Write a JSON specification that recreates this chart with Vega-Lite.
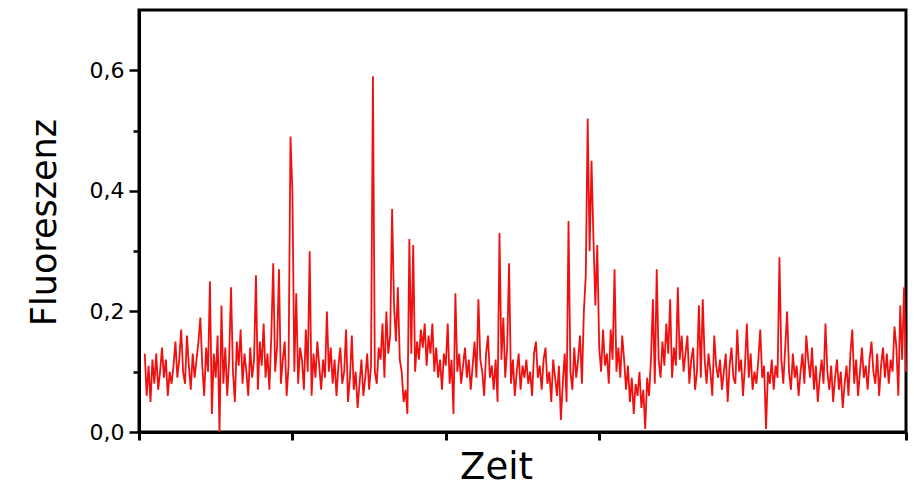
{
  "$schema": "https://vega.github.io/schema/vega-lite/v6.json",
  "width": 767,
  "height": 422,
  "autosize": {"type": "none"},
  "padding": {"left": 139, "top": 10, "right": 8, "bottom": 63},
  "background": "white",
  "config": {
    "view": {"stroke": "black", "strokeWidth": 3},
    "font": "DejaVu Sans"
  },
  "data": {"values": [
{"t":3,"v":0.13},{"t":4,"v":0.06},{"t":5,"v":0.11},{"t":6,"v":0.05},{"t":7,"v":0.12},{"t":8,"v":0.08},{"t":9,"v":0.13},{"t":10,"v":0.07},{"t":11,"v":0.10},{"t":12,"v":0.14},
{"t":13,"v":0.09},{"t":14,"v":0.12},{"t":15,"v":0.06},{"t":16,"v":0.10},{"t":17,"v":0.08},{"t":18,"v":0.11},{"t":19,"v":0.15},{"t":20,"v":0.09},{"t":21,"v":0.12},{"t":22,"v":0.17},
{"t":23,"v":0.10},{"t":24,"v":0.08},{"t":25,"v":0.16},{"t":26,"v":0.11},{"t":27,"v":0.07},{"t":28,"v":0.13},{"t":29,"v":0.09},{"t":30,"v":0.12},{"t":31,"v":0.15},{"t":32,"v":0.19},
{"t":33,"v":0.11},{"t":34,"v":0.06},{"t":35,"v":0.14},{"t":36,"v":0.10},{"t":37,"v":0.25},{"t":38,"v":0.03},{"t":39,"v":0.13},{"t":40,"v":0.09},{"t":41,"v":0.16},{"t":42,"v":0.0},
{"t":43,"v":0.21},{"t":44,"v":0.08},{"t":45,"v":0.14},{"t":46,"v":0.06},{"t":47,"v":0.12},{"t":48,"v":0.24},{"t":49,"v":0.10},{"t":50,"v":0.05},{"t":51,"v":0.15},{"t":52,"v":0.11},
{"t":53,"v":0.17},{"t":54,"v":0.08},{"t":55,"v":0.13},{"t":56,"v":0.10},{"t":57,"v":0.06},{"t":58,"v":0.14},{"t":59,"v":0.09},{"t":60,"v":0.12},{"t":61,"v":0.26},{"t":62,"v":0.07},
{"t":63,"v":0.15},{"t":64,"v":0.11},{"t":65,"v":0.18},{"t":66,"v":0.09},{"t":67,"v":0.13},{"t":68,"v":0.07},{"t":69,"v":0.16},{"t":70,"v":0.28},{"t":71,"v":0.10},{"t":72,"v":0.14},
{"t":73,"v":0.27},{"t":74,"v":0.08},{"t":75,"v":0.12},{"t":76,"v":0.15},{"t":77,"v":0.06},{"t":78,"v":0.11},{"t":79,"v":0.49},{"t":80,"v":0.40},{"t":81,"v":0.10},{"t":82,"v":0.23},
{"t":83,"v":0.08},{"t":84,"v":0.14},{"t":85,"v":0.12},{"t":86,"v":0.07},{"t":87,"v":0.17},{"t":88,"v":0.10},{"t":89,"v":0.30},{"t":90,"v":0.06},{"t":91,"v":0.13},{"t":92,"v":0.09},
{"t":93,"v":0.15},{"t":94,"v":0.11},{"t":95,"v":0.07},{"t":96,"v":0.12},{"t":97,"v":0.09},{"t":98,"v":0.20},{"t":99,"v":0.10},{"t":100,"v":0.14},{"t":101,"v":0.08},{"t":102,"v":0.12},
{"t":103,"v":0.06},{"t":104,"v":0.11},{"t":105,"v":0.14},{"t":106,"v":0.08},{"t":107,"v":0.10},{"t":108,"v":0.17},{"t":109,"v":0.05},{"t":110,"v":0.09},{"t":111,"v":0.16},{"t":112,"v":0.07},
{"t":113,"v":0.10},{"t":114,"v":0.04},{"t":115,"v":0.08},{"t":116,"v":0.12},{"t":117,"v":0.06},{"t":118,"v":0.09},{"t":119,"v":0.13},{"t":120,"v":0.07},{"t":121,"v":0.11},{"t":122,"v":0.59},
{"t":123,"v":0.10},{"t":124,"v":0.08},{"t":125,"v":0.14},{"t":126,"v":0.12},{"t":127,"v":0.18},{"t":128,"v":0.09},{"t":129,"v":0.20},{"t":130,"v":0.13},{"t":131,"v":0.16},{"t":132,"v":0.37},
{"t":133,"v":0.21},{"t":134,"v":0.15},{"t":135,"v":0.24},{"t":136,"v":0.12},{"t":137,"v":0.10},{"t":138,"v":0.05},{"t":139,"v":0.07},{"t":140,"v":0.03},{"t":141,"v":0.32},{"t":142,"v":0.13},
{"t":143,"v":0.31},{"t":144,"v":0.10},{"t":145,"v":0.15},{"t":146,"v":0.12},{"t":147,"v":0.17},{"t":148,"v":0.14},{"t":149,"v":0.18},{"t":150,"v":0.11},{"t":151,"v":0.16},{"t":152,"v":0.13},
{"t":153,"v":0.18},{"t":154,"v":0.10},{"t":155,"v":0.14},{"t":156,"v":0.09},{"t":157,"v":0.12},{"t":158,"v":0.07},{"t":159,"v":0.13},{"t":160,"v":0.11},{"t":161,"v":0.18},{"t":162,"v":0.08},
{"t":163,"v":0.12},{"t":164,"v":0.03},{"t":165,"v":0.23},{"t":166,"v":0.10},{"t":167,"v":0.13},{"t":168,"v":0.08},{"t":169,"v":0.11},{"t":170,"v":0.14},{"t":171,"v":0.09},{"t":172,"v":0.12},
{"t":173,"v":0.07},{"t":174,"v":0.11},{"t":175,"v":0.15},{"t":176,"v":0.09},{"t":177,"v":0.22},{"t":178,"v":0.12},{"t":179,"v":0.10},{"t":180,"v":0.06},{"t":181,"v":0.13},{"t":182,"v":0.16},
{"t":183,"v":0.09},{"t":184,"v":0.11},{"t":185,"v":0.07},{"t":186,"v":0.12},{"t":187,"v":0.05},{"t":188,"v":0.33},{"t":189,"v":0.12},{"t":190,"v":0.19},{"t":191,"v":0.09},{"t":192,"v":0.14},
{"t":193,"v":0.28},{"t":194,"v":0.08},{"t":195,"v":0.12},{"t":196,"v":0.06},{"t":197,"v":0.10},{"t":198,"v":0.13},{"t":199,"v":0.07},{"t":200,"v":0.11},{"t":201,"v":0.09},{"t":202,"v":0.12},
{"t":203,"v":0.08},{"t":204,"v":0.10},{"t":205,"v":0.06},{"t":206,"v":0.13},{"t":207,"v":0.15},{"t":208,"v":0.09},{"t":209,"v":0.11},{"t":210,"v":0.07},{"t":211,"v":0.12},{"t":212,"v":0.14},
{"t":213,"v":0.08},{"t":214,"v":0.10},{"t":215,"v":0.05},{"t":216,"v":0.12},{"t":217,"v":0.09},{"t":218,"v":0.06},{"t":219,"v":0.11},{"t":220,"v":0.02},{"t":221,"v":0.08},{"t":222,"v":0.13},
{"t":223,"v":0.05},{"t":224,"v":0.35},{"t":225,"v":0.10},{"t":226,"v":0.07},{"t":227,"v":0.14},{"t":228,"v":0.09},{"t":229,"v":0.12},{"t":230,"v":0.16},{"t":231,"v":0.08},{"t":232,"v":0.20},
{"t":233,"v":0.26},{"t":234,"v":0.52},{"t":235,"v":0.30},{"t":236,"v":0.45},{"t":237,"v":0.32},{"t":238,"v":0.21},{"t":239,"v":0.31},{"t":240,"v":0.14},{"t":241,"v":0.10},{"t":242,"v":0.17},
{"t":243,"v":0.11},{"t":244,"v":0.13},{"t":245,"v":0.08},{"t":246,"v":0.17},{"t":247,"v":0.12},{"t":248,"v":0.27},{"t":249,"v":0.10},{"t":250,"v":0.14},{"t":251,"v":0.09},{"t":252,"v":0.16},
{"t":253,"v":0.12},{"t":254,"v":0.07},{"t":255,"v":0.11},{"t":256,"v":0.05},{"t":257,"v":0.09},{"t":258,"v":0.03},{"t":259,"v":0.08},{"t":260,"v":0.06},{"t":261,"v":0.10},{"t":262,"v":0.04},
{"t":263,"v":0.07},{"t":264,"v":0.005},{"t":265,"v":0.09},{"t":266,"v":0.06},{"t":267,"v":0.12},{"t":268,"v":0.22},{"t":269,"v":0.08},{"t":270,"v":0.27},{"t":271,"v":0.12},{"t":272,"v":0.09},
{"t":273,"v":0.15},{"t":274,"v":0.11},{"t":275,"v":0.18},{"t":276,"v":0.13},{"t":277,"v":0.22},{"t":278,"v":0.09},{"t":279,"v":0.14},{"t":280,"v":0.11},{"t":281,"v":0.24},{"t":282,"v":0.12},
{"t":283,"v":0.16},{"t":284,"v":0.10},{"t":285,"v":0.13},{"t":286,"v":0.16},{"t":287,"v":0.08},{"t":288,"v":0.12},{"t":289,"v":0.14},{"t":290,"v":0.07},{"t":291,"v":0.10},{"t":292,"v":0.21},
{"t":293,"v":0.09},{"t":294,"v":0.22},{"t":295,"v":0.12},{"t":296,"v":0.08},{"t":297,"v":0.13},{"t":298,"v":0.10},{"t":299,"v":0.06},{"t":300,"v":0.16},{"t":301,"v":0.11},{"t":302,"v":0.09},
{"t":303,"v":0.12},{"t":304,"v":0.07},{"t":305,"v":0.10},{"t":306,"v":0.13},{"t":307,"v":0.05},{"t":308,"v":0.11},{"t":309,"v":0.14},{"t":310,"v":0.09},{"t":311,"v":0.08},{"t":312,"v":0.17},
{"t":313,"v":0.10},{"t":314,"v":0.12},{"t":315,"v":0.06},{"t":316,"v":0.11},{"t":317,"v":0.18},{"t":318,"v":0.09},{"t":319,"v":0.13},{"t":320,"v":0.07},{"t":321,"v":0.10},{"t":322,"v":0.08},
{"t":323,"v":0.12},{"t":324,"v":0.17},{"t":325,"v":0.09},{"t":326,"v":0.11},{"t":327,"v":0.005},{"t":328,"v":0.10},{"t":329,"v":0.08},{"t":330,"v":0.12},{"t":331,"v":0.07},{"t":332,"v":0.11},
{"t":333,"v":0.09},{"t":334,"v":0.29},{"t":335,"v":0.12},{"t":336,"v":0.08},{"t":337,"v":0.14},{"t":338,"v":0.20},{"t":339,"v":0.10},{"t":340,"v":0.07},{"t":341,"v":0.13},{"t":342,"v":0.09},
{"t":343,"v":0.11},{"t":344,"v":0.06},{"t":345,"v":0.10},{"t":346,"v":0.13},{"t":347,"v":0.08},{"t":348,"v":0.16},{"t":349,"v":0.12},{"t":350,"v":0.09},{"t":351,"v":0.14},{"t":352,"v":0.07},
{"t":353,"v":0.11},{"t":354,"v":0.05},{"t":355,"v":0.09},{"t":356,"v":0.12},{"t":357,"v":0.08},{"t":358,"v":0.18},{"t":359,"v":0.10},{"t":360,"v":0.07},{"t":361,"v":0.11},{"t":362,"v":0.05},
{"t":363,"v":0.09},{"t":364,"v":0.12},{"t":365,"v":0.07},{"t":366,"v":0.10},{"t":367,"v":0.04},{"t":368,"v":0.08},{"t":369,"v":0.11},{"t":370,"v":0.06},{"t":371,"v":0.13},{"t":372,"v":0.17},
{"t":373,"v":0.08},{"t":374,"v":0.12},{"t":375,"v":0.06},{"t":376,"v":0.10},{"t":377,"v":0.14},{"t":378,"v":0.09},{"t":379,"v":0.11},{"t":380,"v":0.07},{"t":381,"v":0.12},{"t":382,"v":0.15},
{"t":383,"v":0.10},{"t":384,"v":0.08},{"t":385,"v":0.13},{"t":386,"v":0.06},{"t":387,"v":0.11},{"t":388,"v":0.14},{"t":389,"v":0.09},{"t":390,"v":0.13},{"t":391,"v":0.08},{"t":392,"v":0.12},
{"t":393,"v":0.10},{"t":394,"v":0.175},{"t":395,"v":0.14},{"t":396,"v":0.06},{"t":397,"v":0.21},{"t":398,"v":0.12},{"t":399,"v":0.24},{"t":400,"v":0.10}
  ]},
  "layer": [
    {
      "mark": {"type": "line", "color": "#f01010", "strokeWidth": 1.8, "interpolate": "linear"},
      "encoding": {
        "x": {"field": "t", "type": "quantitative",
          "scale": {"domain": [0, 400], "nice": false},
          "axis": {"orient": "bottom", "values": [0, 80, 160, 240, 400], "labels": false, "grid": false,
            "tickSize": 8, "tickWidth": 3, "tickColor": "black", "domainColor": "black", "domainWidth": 3,
            "title": "Zeit", "titleFont": "DejaVu Sans", "titleFontSize": 37, "titleFontWeight": "normal", "titleColor": "black",
            "titleAlign": "center", "titleBaseline": "alphabetic", "titleX": 357, "titleY": 46}},
        "y": {"field": "v", "type": "quantitative",
          "scale": {"domain": [0, 0.7], "nice": false},
          "axis": {"orient": "left", "values": [0, 0.2, 0.4, 0.6], "grid": false,
            "labelExpr": "replace(format(datum.value, '.1f'), '.', ',')",
            "labelFont": "DejaVu Sans", "labelFontSize": 22, "labelColor": "black", "labelPadding": 5,
            "tickSize": 10, "tickWidth": 2.5, "tickColor": "black", "domainColor": "black", "domainWidth": 3,
            "title": "Fluoreszenz", "titleFont": "DejaVu Sans", "titleFontSize": 35, "titleFontWeight": "normal", "titleColor": "black",
            "titleAngle": -90, "titleAlign": "center", "titleBaseline": "alphabetic", "titleX": -84, "titleY": 212}}
      }
    },
    {
      "mark": {"type": "line", "strokeOpacity": 0},
      "encoding": {
        "x": {"field": "t", "type": "quantitative"},
        "y": {"field": "v", "type": "quantitative",
          "axis": {"orient": "left", "values": [0.1, 0.3, 0.5], "labels": false, "domain": false, "grid": false,
            "tickSize": 6, "tickWidth": 2.5, "tickColor": "black", "title": null}}
      }
    }
  ],
  "resolve": {"axis": {"y": "independent"}}
}
